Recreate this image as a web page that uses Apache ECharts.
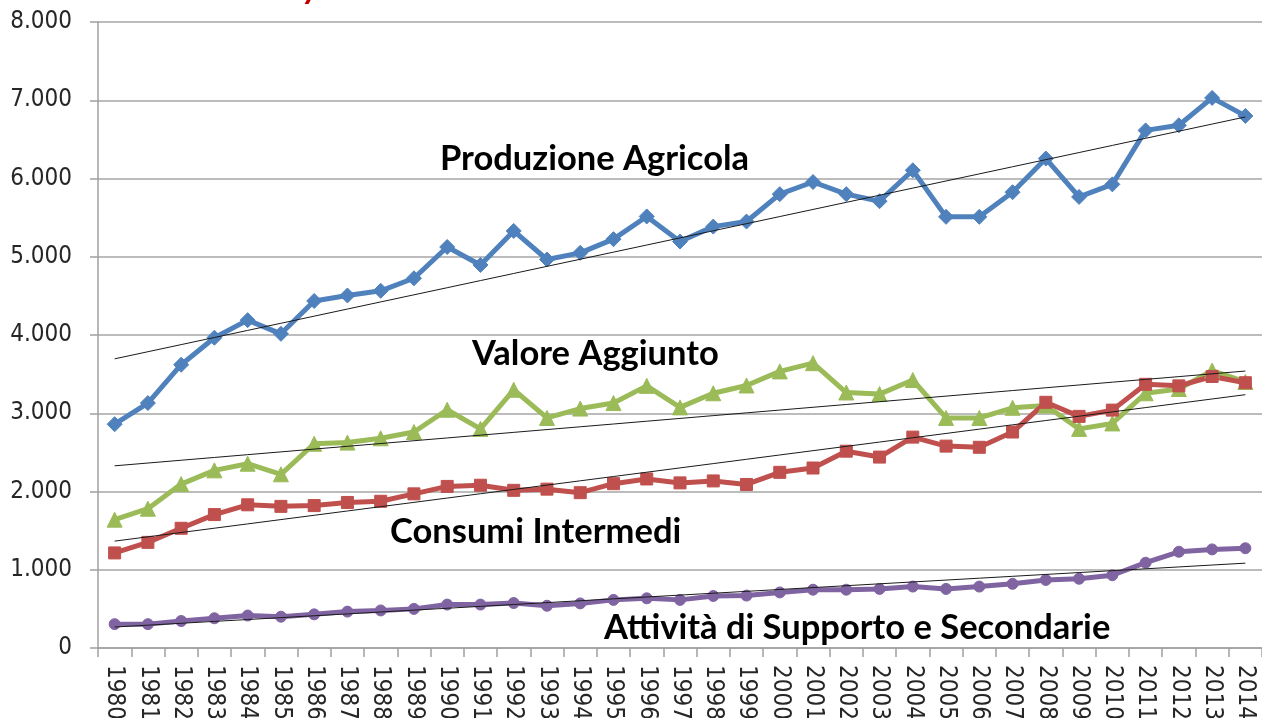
<!DOCTYPE html>
<html>
<head>
<meta charset="utf-8">
<script src="https://cdn.jsdelivr.net/npm/echarts@6/dist/echarts.min.js"></script>
<style>
  html, body { margin: 0; padding: 0; background: #fff; }
  #chart { width: 1262px; height: 718px; }
</style>
</head>
<body>
<div id="chart"></div>
<script>
var years = ['1980','1981','1982','1983','1984','1985','1986','1987','1988','1989',
    '1990','1991','1992','1993','1994','1995','1996','1997','1998','1999',
    '2000','2001','2002','2003','2004','2005','2006','2007','2008','2009',
    '2010','2011','2012','2013','2014'];

var produzione = [2860, 3130, 3620, 3965, 4190, 4015, 4435, 4505, 4565, 4725,
    5125, 4895, 5330, 4965, 5050, 5225, 5515, 5195, 5385, 5450,
    5800, 5955, 5800, 5710, 6105, 5510, 5510, 5825, 6255, 5765,
    5925, 6615, 6680, 7030, 6800];

var valoreAggiunto = [1640, 1780, 2095, 2270, 2355, 2220, 2610, 2625, 2680, 2760,
    3045, 2800, 3300, 2940, 3060, 3130, 3350, 3075, 3255, 3355,
    3535, 3640, 3265, 3245, 3425, 2940, 2940, 3070, 3100, 2800,
    2870, 3255, 3310, 3545, 3400];

var consumiIntermedi = [1215, 1350, 1530, 1705, 1830, 1810, 1820, 1860, 1875, 1970,
    2065, 2080, 2015, 2030, 1985, 2100, 2160, 2110, 2135, 2090,
    2245, 2300, 2515, 2440, 2695, 2580, 2565, 2760, 3140, 2960,
    3040, 3370, 3350, 3470, 3390];

var attivita = [305, 305, 345, 380, 415, 400, 430, 465, 480, 500,
    555, 555, 575, 540, 570, 615, 635, 615, 665, 670,
    710, 745, 745, 755, 785, 755, 785, 820, 870, 885,
    930, 1090, 1230, 1260, 1275];

var yTicks = [0, 1000, 2000, 3000, 4000, 5000, 6000, 7000, 8000];

// linear trend (least squares) like the excel trendline
function trend(arr) {
    var n = arr.length, sx = 0, sy = 0, sxx = 0, sxy = 0;
    for (var i = 0; i < n; i++) {
        sx += i; sy += arr[i]; sxx += i * i; sxy += i * arr[i];
    }
    var k = (n * sxy - sx * sy) / (n * sxx - sx * sx);
    var b = (sy - k * sx) / n;
    return arr.map(function (v, i) { return +(b + k * i).toFixed(1); });
}

function serie(name, data, color, symbol, size) {
    return {
        name: name,
        type: 'line',
        data: data,
        symbol: symbol,
        symbolSize: size,
        lineStyle: { color: color, width: 5 },
        itemStyle: { color: color, borderColor: color, borderWidth: 1 },
        z: 2
    };
}

function trendSerie(data) {
    return {
        type: 'line',
        data: trend(data),
        showSymbol: false,
        symbol: 'none',
        lineStyle: { color: '#1a1a1a', width: 1 },
        silent: true,
        z: 5
    };
}

var myChart = echarts.init(document.getElementById('chart'));

var labelFont = 'Lato, sans-serif';

myChart.setOption({
    animation: false,
    grid: { left: 98, right: 0, top: 22, bottom: 70, containLabel: false, outerBoundsMode: 'none' },
    xAxis: {
        type: 'category',
        data: years,
        boundaryGap: true,
        axisLine: { lineStyle: { color: '#a0a0a0', width: 1.5 } },
        axisTick: { show: true, interval: 0, length: 9, lineStyle: { color: '#a0a0a0', width: 1.5 } },
        axisLabel: {
            interval: 0,
            rotate: -90,
            margin: 17,
            fontSize: 24,
            fontFamily: 'DejaVu Sans Condensed',
            color: '#262626'
        }
    },
    yAxis: {
        type: 'value',
        min: yTicks[0],
        max: yTicks[yTicks.length - 1],
        interval: 1000,
        axisLine: { show: true, lineStyle: { color: '#a0a0a0', width: 1.5 } },
        axisTick: { show: true, length: 8, lineStyle: { color: '#a0a0a0', width: 1.5 } },
        splitLine: { lineStyle: { color: '#a6a6a6', width: 1.5 } },
        axisLabel: {
            margin: 26,
            fontSize: 24,
            fontFamily: 'DejaVu Sans Condensed',
            color: '#262626',
            formatter: function (v) {
                return String(v).replace(/\B(?=(\d{3})+(?!\d))/g, '.');
            }
        }
    },
    series: [
        serie('Produzione Agricola', produzione, '#4F81BD', 'diamond', 15),
        serie('Valore Aggiunto', valoreAggiunto, '#9BBB59', 'triangle', 15),
        serie('Consumi Intermedi', consumiIntermedi, '#C0504D', 'rect', 12),
        serie('Attività di Supporto e Secondarie', attivita, '#8064A2', 'circle', 11),
        trendSerie(produzione),
        trendSerie(valoreAggiunto),
        trendSerie(consumiIntermedi),
        trendSerie(attivita)
    ],
    graphic: [
        { type: 'text', left: 440, top: 141, style: { text: 'Produzione Agricola', font: 'bold 34.5px ' + labelFont, fill: '#000' } },
        { type: 'text', left: 472, top: 336, style: { text: 'Valore Aggiunto', font: 'bold 34.5px ' + labelFont, fill: '#000' } },
        { type: 'text', left: 390, top: 514, style: { text: 'Consumi Intermedi', font: 'bold 34.5px ' + labelFont, fill: '#000' } },
        { type: 'text', left: 604, top: 610, style: { text: 'Attività di Supporto e Secondarie', font: 'bold 34.5px ' + labelFont, fill: '#000' } },
        { type: 'text', left: 303, top: -31, style: { text: 'y', font: 'bold italic 34.5px ' + labelFont, fill: '#C00000' } }
    ]
});
</script>
</body>
</html>
